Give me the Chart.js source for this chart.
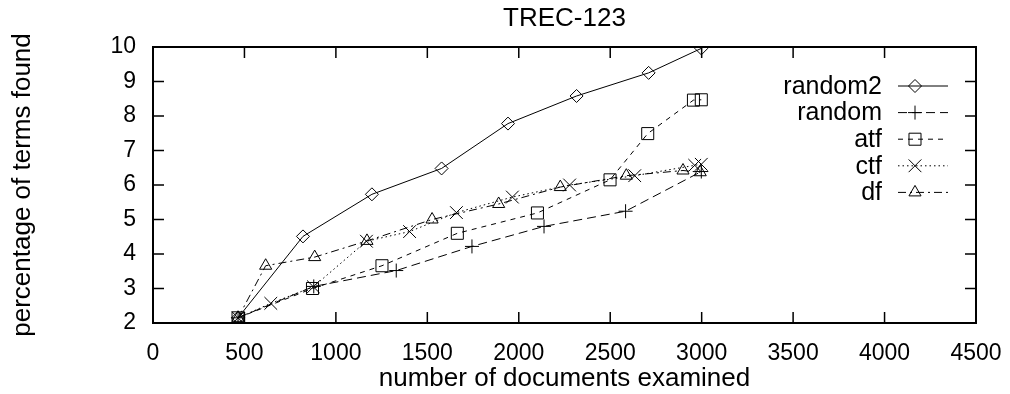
<!DOCTYPE html>
<html>
<head>
<meta charset="utf-8">
<title>TREC-123</title>
<script src="https://cdn.jsdelivr.net/npm/chart.js@4/dist/chart.umd.min.js"></script>
<style>
  body { margin: 0; background: #fff; }
  canvas { display: block; }
</style>
</head>
<body>
<canvas id="chart" width="1010" height="394"></canvas>
<script>
// values
const seriesNames = ['random2', 'random', 'atf', 'ctf', 'df'];

const random2X = [465, 820, 1197, 1578, 1941, 2316, 2710, 2998];
const random2Y = [2.15, 4.51, 5.73, 6.48, 7.78, 8.58, 9.25, 9.96];

const randomX = [465, 879, 1330, 1744, 2138, 2584, 2998];
const randomY = [2.15, 3.06, 3.52, 4.22, 4.80, 5.24, 6.39];

const atfX = [465, 872, 1252, 1664, 2102, 2499, 2705, 2955, 2998];
const atfY = [2.15, 3.00, 3.66, 4.60, 5.19, 6.15, 7.49, 8.46, 8.47];

const ctfX = [465, 644, 877, 1167, 1403, 1659, 1965, 2278, 2634, 2962, 2998];
const ctfY = [2.15, 2.57, 3.05, 4.37, 4.65, 5.20, 5.65, 6.00, 6.27, 6.57, 6.60];

const dfX = [465, 616, 884, 1170, 1526, 1890, 2227, 2588, 2898, 2992];
const dfY = [2.15, 3.66, 3.91, 4.38, 5.00, 5.45, 5.94, 6.27, 6.42, 6.37];

const xTicks = { min: 0, max: 4500, step: 500 };
const yTicks = { min: 2, max: 10, step: 1 };

function pts(xs, ys) {
    return xs.map((x, i) => ({ x: x, y: ys[i] }));
}

const styles = [
    { pointStyle: 'rectRot', radius: 6.5, dash: [] },
    { pointStyle: 'cross', radius: 7, dash: [9, 5] },
    { pointStyle: 'rect', radius: 8.5, dash: [5, 5] },
    { pointStyle: 'crossRot', radius: 9, dash: [1.5, 3] },
    { pointStyle: 'triangle', radius: 7, dash: [8, 4, 2, 4] },
];

const allData = [pts(random2X, random2Y), pts(randomX, randomY), pts(atfX, atfY), pts(ctfX, ctfY), pts(dfX, dfY)];

const datasets = seriesNames.map((name, i) => ({
    label: name,
    data: allData[i],
    borderColor: '#000',
    borderWidth: 1,
    borderDash: styles[i].dash,
    pointStyle: styles[i].pointStyle,
    pointRadius: styles[i].radius,
    pointBorderColor: '#000',
    pointBackgroundColor: 'rgba(0,0,0,0)',
    pointBorderWidth: 1,
    fill: false,
    tension: 0,
}));

const FONT = 'Liberation Sans, Arial, Helvetica, sans-serif';

// frame with inward ticks on all four sides, title and the key
const framePlugin = {
    id: 'frame',
    afterDraw(chart) {
        const ctx = chart.ctx;
        const a = chart.chartArea;
        const xs = chart.scales.x, ys = chart.scales.y;
        ctx.save();
        ctx.strokeStyle = '#000';
        ctx.lineWidth = 1.5;
        ctx.setLineDash([]);
        ctx.beginPath();
        xs.ticks.forEach(t => {
            const px = xs.getPixelForValue(t.value);
            ctx.moveTo(px, a.bottom); ctx.lineTo(px, a.bottom - 11);
            ctx.moveTo(px, a.top); ctx.lineTo(px, a.top + 11);
        });
        ys.ticks.forEach(t => {
            const py = ys.getPixelForValue(t.value);
            ctx.moveTo(a.left, py); ctx.lineTo(a.left + 11, py);
            ctx.moveTo(a.right, py); ctx.lineTo(a.right - 11, py);
        });
        ctx.stroke();
        ctx.lineWidth = 2;
        ctx.strokeRect(a.left, a.top, a.right - a.left, a.bottom - a.top);

        // title
        ctx.fillStyle = '#000';
        ctx.font = '26px ' + FONT;
        ctx.textAlign = 'center';
        ctx.textBaseline = 'middle';
        ctx.fillText('TREC-123', (a.left + a.right) / 2, 19);

        // key
        ctx.font = '25px ' + FONT;
        const textRight = 882, lineL = 898, lineR = 948, markX = 915;
        chart.data.datasets.forEach((ds, i) => {
            const y = 86 + i * 26.6;
            ctx.textAlign = 'right';
            ctx.fillText(ds.label, textRight, y + 1);
            ctx.lineWidth = 1;
            ctx.setLineDash(ds.borderDash);
            ctx.beginPath();
            ctx.moveTo(lineL, y); ctx.lineTo(lineR, y);
            ctx.stroke();
            ctx.setLineDash([]);
            if (Chart.helpers && Chart.helpers.drawPoint) {
                ctx.fillStyle = 'rgba(0,0,0,0)';
                Chart.helpers.drawPoint(ctx, {
                    pointStyle: ds.pointStyle, radius: ds.pointRadius, rotation: 0, borderWidth: 1
                }, markX, y);
                ctx.fillStyle = '#000';
            }
        });
        ctx.restore();
    }
};

Chart.defaults.font.family = FONT;
Chart.defaults.color = '#000';

new Chart(document.getElementById('chart'), {
    type: 'line',
    data: { datasets: datasets },
    options: {
        responsive: false,
        animation: false,
        devicePixelRatio: 1,
        layout: { padding: { top: 47, right: 34, left: 0, bottom: 0 } },
        plugins: {
            legend: { display: false },
            tooltip: { enabled: false },
        },
        scales: {
            x: {
                type: 'linear',
                min: xTicks.min,
                max: xTicks.max,
                ticks: { stepSize: xTicks.step, font: { size: 23 }, padding: 17, maxRotation: 0, color: '#000',
                         callback: v => String(v) },
                grid: { display: false, drawTicks: false },
                border: { display: false },
                title: { display: true, text: 'number of documents examined', font: { size: 26 }, padding: { top: 0, bottom: 0 } },
                afterFit(scale) {
                    scale.height = 71;
                    scale.paddingLeft = 0;
                    scale.paddingRight = 0;
                },
            },
            y: {
                type: 'linear',
                min: yTicks.min,
                max: yTicks.max,
                ticks: { stepSize: yTicks.step, font: { size: 23 }, padding: 17, color: '#000' },
                grid: { display: false, drawTicks: false },
                border: { display: false },
                title: { display: true, text: 'percentage of terms found', font: { size: 26 }, padding: { top: 7, bottom: 0 } },
                afterFit(scale) { scale.width = 153; },
            },
        },
    },
    plugins: [framePlugin],
});
</script>
</body>
</html>
